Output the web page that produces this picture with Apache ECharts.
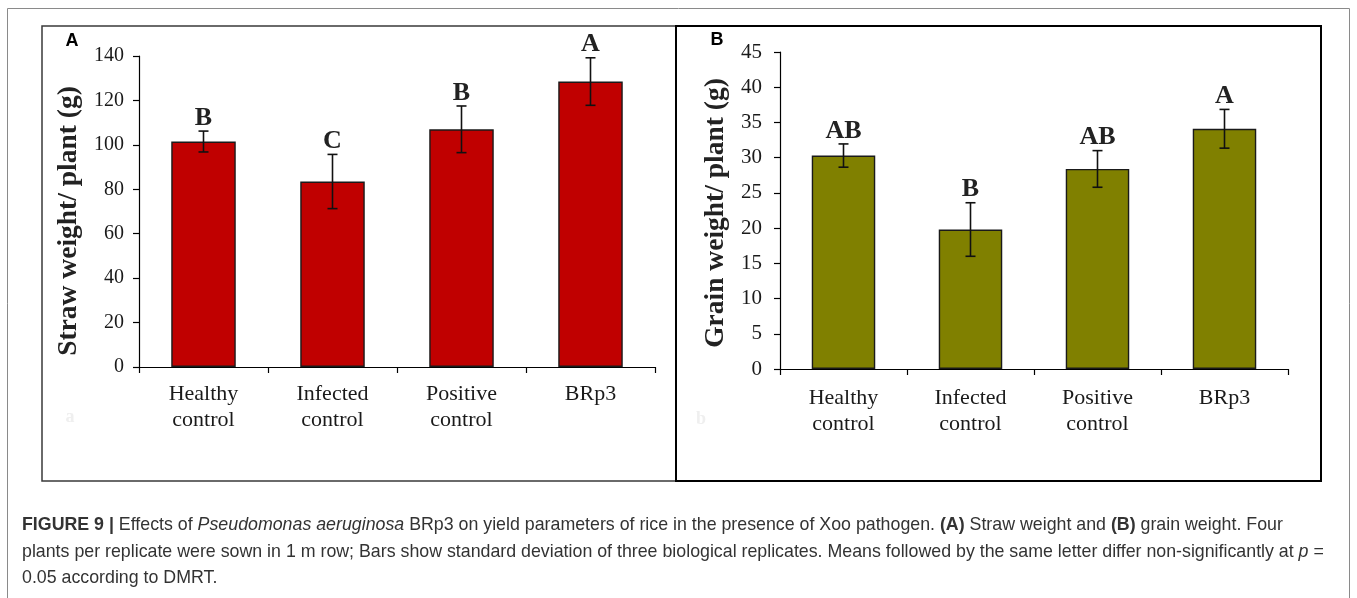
<!DOCTYPE html>
<html>
<head>
<meta charset="utf-8">
<script src="https://cdn.jsdelivr.net/npm/echarts@6/dist/echarts.min.js"></script>
<style>
html,body{margin:0;padding:0;background:#fff;}
#chart{width:1357px;height:598px;}
</style>
</head>
<body>
<div id="chart"></div>
<script>
// ---- data ----
const categories = ['Healthy\ncontrol', 'Infected\ncontrol', 'Positive\ncontrol', 'BRp3'];
const strawMean = [101.5, 83.5, 107, 128.5];
const strawSD = [4.7, 12.2, 10.5, 10.7];
const strawLetters = ['B', 'C', 'B', 'A'];
const grainMean = [30.3, 19.8, 28.4, 34.1];
const grainSD = [1.65, 3.8, 2.6, 2.75];
const grainLetters = ['AB', 'B', 'AB', 'A'];
const strawAxis = {min: 0, max: 140, interval: 20};
const grainAxis = {min: 0, max: 45, interval: 5};
const strawTitle = 'Straw weight/ plant (g)';
const grainTitle = 'Grain weight/ plant (g)';

const chart = echarts.init(document.getElementById('chart'));
const SERIF = '"Liberation Serif", "Times New Roman", serif';
const SANS = '"Liberation Sans", Arial, sans-serif';
const CAP = 17.8;

function errRender(letters) {
  return function (params, api) {
    const x = api.value(0), m = api.value(1), sd = api.value(2);
    const top = api.coord([x, m + sd]);
    const bot = api.coord([x, m - sd]);
    const cap = 5;
    const ls = {stroke: '#111', lineWidth: 1.6};
    return {
      type: 'group',
      children: [
        {type: 'line', shape: {x1: top[0], y1: top[1], x2: bot[0], y2: bot[1]}, style: ls},
        {type: 'line', shape: {x1: top[0] - cap, y1: top[1], x2: top[0] + cap, y2: top[1]}, style: ls},
        {type: 'line', shape: {x1: bot[0] - cap, y1: bot[1], x2: bot[0] + cap, y2: bot[1]}, style: ls},
        {type: 'text', style: {
          text: letters[params.dataIndex], x: top[0], y: top[1],
          align: 'center', verticalAlign: 'bottom',
          textAlign: 'center', textVerticalAlign: 'bottom',
          font: 'bold 26px ' + SERIF, fill: '#222'
        }}
      ]
    };
  };
}

function xAxisCfg(grid, margin) {
  return {
    type: 'category', gridIndex: grid, data: categories,
    axisLine: {lineStyle: {color: '#000', width: 1.2}},
    axisTick: {show: true, length: 6, lineStyle: {color: '#000', width: 1.2}},
    axisLabel: {margin: margin, fontFamily: SERIF, fontSize: 22, lineHeight: 26, color: '#1a1a1a', interval: 0}
  };
}
function yAxisCfg(grid, ax, margin, fs) {
  return {
    type: 'value', gridIndex: grid, min: ax.min, max: ax.max, interval: ax.interval,
    splitLine: {show: false},
    axisLine: {show: true, lineStyle: {color: '#000', width: 1.2}},
    axisTick: {show: true, length: 6, lineStyle: {color: '#000', width: 1.2}},
    axisLabel: {margin: margin, fontFamily: SERIF, fontSize: fs, color: '#1a1a1a'}
  };
}

const capRich = {
  b: {fontWeight: 'bold', fontSize: CAP, fontFamily: SANS, color: '#333'},
  r: {fontSize: CAP, fontFamily: SANS, color: '#333'},
  i: {fontStyle: 'italic', fontSize: CAP, fontFamily: SANS, color: '#333'}
};

const option = {
  animation: false,
  backgroundColor: '#ffffff',
  grid: [
    {left: 139, top: 56, width: 516, height: 311},
    {left: 780, top: 52, width: 508, height: 317}
  ],
  xAxis: [xAxisCfg(0, 14), xAxisCfg(1, 16)],
  yAxis: [yAxisCfg(0, strawAxis, 15, 20), yAxisCfg(1, grainAxis, 18, 21)],
  series: [
    {type: 'bar', xAxisIndex: 0, yAxisIndex: 0, data: strawMean, barWidth: '50%',
     itemStyle: {color: '#c00000', borderColor: '#1a1a1a', borderWidth: 1.4}},
    {type: 'custom', xAxisIndex: 0, yAxisIndex: 0, z: 5,
     data: strawMean.map((v, i) => [i, v, strawSD[i]]), renderItem: errRender(strawLetters)},
    {type: 'bar', xAxisIndex: 1, yAxisIndex: 1, data: grainMean, barWidth: '50%',
     itemStyle: {color: '#808000', borderColor: '#1a1a1a', borderWidth: 1.4}},
    {type: 'custom', xAxisIndex: 1, yAxisIndex: 1, z: 5,
     data: grainMean.map((v, i) => [i, v, grainSD[i]]), renderItem: errRender(grainLetters)}
  ],
  graphic: [
    {type: 'rect', shape: {x: 7.5, y: 8.5, width: 1342, height: 620}, style: {fill: 'none', stroke: '#8a8a8a', lineWidth: 1}, z: 0},
    {type: 'rect', shape: {x: 42, y: 26, width: 634, height: 455}, style: {fill: 'none', stroke: '#3a3a3a', lineWidth: 1.5}, z: 1},
    {type: 'rect', shape: {x: 676, y: 26, width: 645, height: 455}, style: {fill: 'none', stroke: '#000', lineWidth: 2}, z: 1},
    {type: 'text', x: 72, y: 41, style: {text: 'A', font: 'bold 18px ' + SANS, fill: '#000', align: 'center', verticalAlign: 'middle'}},
    {type: 'text', x: 717, y: 40, style: {text: 'B', font: 'bold 18px ' + SANS, fill: '#000', align: 'center', verticalAlign: 'middle'}},
    {type: 'text', x: 70, y: 417, style: {text: 'a', font: 'bold 18px ' + SERIF, fill: '#efefef', align: 'center', verticalAlign: 'middle'}},
    {type: 'text', x: 701, y: 419, style: {text: 'b', font: 'bold 18px ' + SERIF, fill: '#efefef', align: 'center', verticalAlign: 'middle'}},
    {type: 'text', x: 69, y: 221, rotation: Math.PI / 2, style: {text: strawTitle, font: 'bold 27.5px ' + SERIF, fill: '#222', align: 'center', verticalAlign: 'middle'}},
    {type: 'text', x: 716, y: 213, rotation: Math.PI / 2, style: {text: grainTitle, font: 'bold 27.5px ' + SERIF, fill: '#222', align: 'center', verticalAlign: 'middle'}},
    {type: 'text', x: 22, y: 525, style: {
      text: '{b|FIGURE 9 |}{r| Effects of }{i|Pseudomonas aeruginosa}{r| BRp3 on yield parameters of rice in the presence of Xoo pathogen. }{b|(A)}{r| Straw weight and }{b|(B)}{r| grain weight. Four}',
      verticalAlign: 'middle', font: CAP + 'px ' + SANS, fill: '#333', rich: capRich
    }},
    {type: 'text', x: 22, y: 552, style: {
      text: '{r|plants per replicate were sown in 1 m row; Bars show standard deviation of three biological replicates. Means followed by the same letter differ non-significantly at }{i|p}{r| =}',
      verticalAlign: 'middle', font: CAP + 'px ' + SANS, fill: '#333', rich: capRich
    }},
    {type: 'text', x: 22, y: 578, style: {
      text: '0.05 according to DMRT.', verticalAlign: 'middle', font: CAP + 'px ' + SANS, fill: '#333'
    }}
  ]
};
chart.setOption(option);
</script>
</body>
</html>
